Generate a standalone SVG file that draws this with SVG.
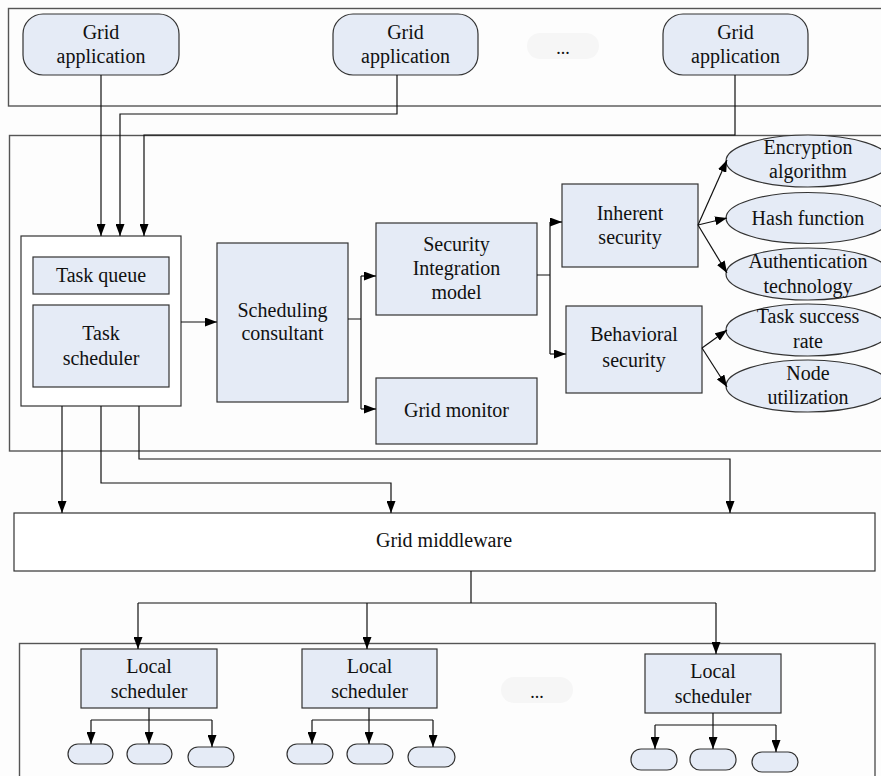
<svg xmlns="http://www.w3.org/2000/svg" width="881" height="776" viewBox="0 0 881 776">
<defs>
<marker id="ah" viewBox="0 0 12 9" refX="12" refY="4.5" markerWidth="12" markerHeight="9" markerUnits="userSpaceOnUse" orient="auto">
<path d="M0,0 L12,4.5 L0,9 Z" fill="#000"/>
</marker>
<style>
text{font-family:"Liberation Serif","Times New Roman",serif;font-size:20px;fill:#111;text-anchor:middle}
.frame{fill:none;stroke:#555;stroke-width:1.4}
.wbox{fill:#fff;stroke:#333;stroke-width:1.2}
.node{fill:#e5ebf6;stroke:#333;stroke-width:1.2}
.faint{fill:#f6f6f6;stroke:none}
.c{fill:none;stroke:#111;stroke-width:1.2}
.ca{fill:none;stroke:#111;stroke-width:1.2;marker-end:url(#ah)}
</style>
</defs>
<rect width="881" height="776" fill="#fdfdfd"/>

<!-- frames -->
<rect class="frame" x="8.5" y="8.5" width="880" height="97.5"/>
<rect class="frame" x="9.5" y="135.5" width="880" height="315.5"/>
<rect class="frame" x="19.5" y="643.5" width="855.5" height="140"/>

<g id="app1"><rect class="node" x="23" y="14" width="156" height="61" rx="20" ry="20"/><text x="101" y="39">Grid</text><text x="101" y="63">application</text></g>
<g id="app2"><rect class="node" x="333" y="14" width="145" height="61" rx="20" ry="20"/><text x="405.5" y="39">Grid</text><text x="405.5" y="63">application</text></g>
<g id="dots1"><rect class="faint" x="527" y="33" width="72" height="26" rx="13"/><text x="563" y="54" style="font-size:18px">...</text></g>
<g id="app3"><rect class="node" x="663" y="14" width="145" height="61" rx="20" ry="20"/><text x="735.5" y="39">Grid</text><text x="735.5" y="63">application</text></g>

<g id="taskbox"><rect class="wbox" x="21" y="236" width="160" height="170"/></g>
<g id="taskqueue"><rect class="node" x="33" y="257" width="136" height="37"/><text x="101" y="282">Task queue</text></g>
<g id="taskscheduler"><rect class="node" x="33" y="305" width="136" height="82"/><text x="101" y="340">Task</text><text x="101" y="365">scheduler</text></g>
<g id="consultant"><rect class="node" x="217" y="243" width="131" height="159"/><text x="282.5" y="317">Scheduling</text><text x="282.5" y="340">consultant</text></g>
<g id="sim"><rect class="node" x="376" y="223" width="161" height="92"/><text x="456.5" y="251">Security</text><text x="456.5" y="275">Integration</text><text x="456.5" y="299">model</text></g>
<g id="monitor"><rect class="node" x="376" y="378" width="161" height="66"/><text x="456.5" y="417">Grid monitor</text></g>
<g id="inherent"><rect class="node" x="562" y="184" width="136" height="83"/><text x="630" y="220">Inherent</text><text x="630" y="244">security</text></g>
<g id="behavioral"><rect class="node" x="566" y="306" width="136" height="87"/><text x="634" y="341">Behavioral</text><text x="634" y="367">security</text></g>
<g id="enc"><ellipse class="node" cx="808" cy="161" rx="82" ry="26"/><text x="808" y="154">Encryption</text><text x="808" y="178">algorithm</text></g>
<g id="hash"><ellipse class="node" cx="808" cy="218" rx="82" ry="25.5"/><text x="808" y="225">Hash function</text></g>
<g id="auth"><ellipse class="node" cx="808" cy="274" rx="82" ry="26"/><text x="808" y="268">Authentication</text><text x="808" y="293">technology</text></g>
<g id="tsr"><ellipse class="node" cx="808" cy="330" rx="82" ry="26"/><text x="808" y="323">Task success</text><text x="808" y="348">rate</text></g>
<g id="node"><ellipse class="node" cx="808" cy="386" rx="82" ry="26"/><text x="808" y="380">Node</text><text x="808" y="404">utilization</text></g>

<g id="middleware"><rect class="wbox" x="14" y="513" width="861" height="58"/><text x="444" y="547">Grid middleware</text></g>

<g id="ls1"><rect class="node" x="81" y="649" width="136" height="59"/><text x="149" y="673">Local</text><text x="149" y="698">scheduler</text></g>
<g id="ls2"><rect class="node" x="302" y="649" width="135" height="59"/><text x="369.5" y="673">Local</text><text x="369.5" y="698">scheduler</text></g>
<g id="dots2"><rect class="faint" x="501" y="677" width="72" height="26" rx="13"/><text x="537" y="698" style="font-size:18px">...</text></g>
<g id="ls3"><rect class="node" x="645" y="654" width="136" height="59"/><text x="713" y="678">Local</text><text x="713" y="703">scheduler</text></g>

<g id="pills">
<rect class="node" x="68" y="744" width="45" height="20" rx="10"/>
<rect class="node" x="127" y="744" width="45" height="20" rx="10"/>
<rect class="node" x="188" y="747" width="46" height="20" rx="10"/>
<rect class="node" x="287" y="744" width="46" height="20" rx="10"/>
<rect class="node" x="347" y="744" width="46" height="20" rx="10"/>
<rect class="node" x="408" y="747" width="47" height="20" rx="10"/>
<rect class="node" x="631" y="749" width="46" height="21" rx="10"/>
<rect class="node" x="690" y="749" width="46" height="21" rx="10"/>
<rect class="node" x="752" y="752" width="46" height="20" rx="10"/>
</g>

<g id="connectors">
<path class="ca" d="M101,75 V236"/>
<path class="ca" d="M397,75 V114 H120 V236"/>
<path class="ca" d="M735,75 V135 H144 V236"/>
<path class="ca" d="M181,322 H217"/>
<path class="c" d="M348,319 H361 M361,276 V409"/>
<path class="ca" d="M361,276 H376"/>
<path class="ca" d="M361,409 H376"/>
<path class="c" d="M537,275 H550 M550,222 V354"/>
<path class="ca" d="M550,222 H562"/>
<path class="ca" d="M550,354 H566"/>
<path class="ca" d="M698,225 L727,160"/>
<path class="ca" d="M698,225 L727,218"/>
<path class="ca" d="M698,225 L727,273"/>
<path class="ca" d="M702,348 L727,330"/>
<path class="ca" d="M702,348 L727,387"/>
<path class="ca" d="M62,406 V513"/>
<path class="ca" d="M101,406 V483 H391 V513"/>
<path class="ca" d="M139,406 V459 H730 V513"/>
<path class="c" d="M471,571 V603 M138,603 H716"/>
<path class="ca" d="M138,603 V649"/>
<path class="ca" d="M367,603 V649"/>
<path class="ca" d="M716,603 V654"/>
<path class="c" d="M149,708 V720 M91,720 H212"/>
<path class="ca" d="M91,720 V744"/>
<path class="ca" d="M149,720 V744"/>
<path class="ca" d="M212,720 V747"/>
<path class="c" d="M369,708 V720 M312,720 H433"/>
<path class="ca" d="M312,720 V744"/>
<path class="ca" d="M369,720 V744"/>
<path class="ca" d="M433,720 V747"/>
<path class="c" d="M713,713 V725 M655,725 H776"/>
<path class="ca" d="M655,725 V749"/>
<path class="ca" d="M713,725 V749"/>
<path class="ca" d="M776,725 V752"/>
</g>
</svg>
